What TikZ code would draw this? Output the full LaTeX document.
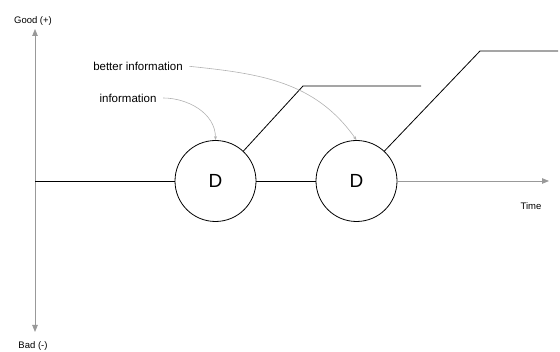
\documentclass[tikz,border=0pt]{standalone}
\usepackage{fontspec}
\setmainfont{Liberation Sans}
\usetikzlibrary{positioning, arrows.meta}

\begin{document}
\begin{tikzpicture}[x=1pt, y=1pt, line width=.8pt]
        \tikzstyle{dec}=[draw, circle, minimum size=81pt, inner sep=0pt, font=\fontsize{19}{19}\selectfont];
        \tikzstyle{axis}=[draw=black!40, -{Triangle[length=7pt, width=5.5pt]}];
        \tikzstyle{pointer}=[draw=black!30, line width=.6pt, shorten <=3pt, -{Stealth[length=4pt, width=3pt]}];
        \tikzstyle{lbl}=[font=\fontsize{9.5}{11}\selectfont];
        \tikzstyle{note}=[font=\fontsize{11.5}{13}\selectfont];
        \useasboundingbox (0,-352) rectangle (560,0);
        \coordinate (origin) at (35,-181);
        \coordinate (top) at (35,-29);
        \coordinate (bottom) at (35,-332);
        \coordinate (tend) at (549,-181);
        \node[dec] (d1) at (215.5,-181) {D};
        \node[dec] (d2) at (356.5,-181) {D};
        \coordinate (k1) at (303,-86);
        \coordinate (e1) at (421,-86);
        \coordinate (k2) at (480,-51);
        \coordinate (e2) at (558,-51);
        \node[lbl] (good) at (33,-21) {Good (+)};
        \node[lbl] (bad) at (33,-346) {Bad (-)};
        \node[lbl] (time) at (531,-206) {Time};
        \node[note] (info) at (128,-98) {information};
        \node[note] (binfo) at (138,-66) {better information};

        % axes
        \draw[axis] (origin) -- (top);
        \draw[axis] (origin) -- (bottom);
        \draw[axis] (d2.east) -- (tend);

        % decisions
        \draw (origin) -- (d1.west);
        \draw (d1.east) -- (d2.west);
        \draw (d1.47) -- (k1) -- (e1);
        \draw (d2.47) -- (k2) -- (e2);

        \path
        (info.east) edge[pointer, out=0, in=90] (d1.north)
        (binfo.east) edge[pointer, out=-6, in=125] (d2.north);
      \end{tikzpicture}
\end{document}
